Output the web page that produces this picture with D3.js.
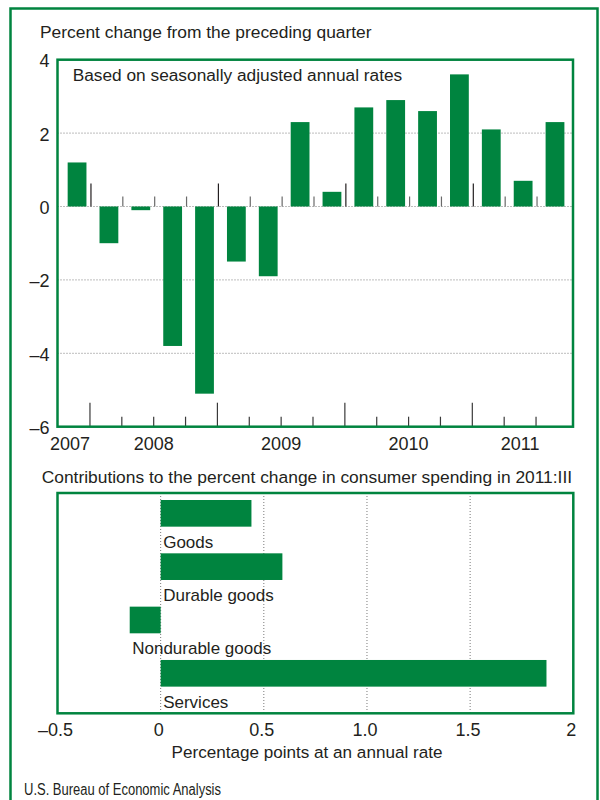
<!DOCTYPE html>
<html>
<head>
<meta charset="utf-8">
<script src="https://cdn.jsdelivr.net/npm/d3@7/dist/d3.min.js"></script>
<style>
  html, body { margin: 0; padding: 0; background: #fff; }
  svg { display: block; }
  text { font-family: "Liberation Sans", Arial, Helvetica, sans-serif; fill: #231f20; }
</style>
</head>
<body>
<svg id="chart" width="600" height="800"></svg>
<script>
// Real consumer spending, percent change from preceding quarter (SAAR)
const quarters = ["2007:IV",
  "2008:I", "2008:II", "2008:III", "2008:IV",
  "2009:I", "2009:II", "2009:III", "2009:IV",
  "2010:I", "2010:II", "2010:III", "2010:IV",
  "2011:I", "2011:II", "2011:III"];
const pctChange = [1.2, -1.0, -0.1, -3.8, -5.1, -1.5, -1.9, 2.3, 0.4, 2.7, 2.9, 2.6, 3.6, 2.1, 0.7, 2.3];
const years = ["2007", "2008", "2009", "2010", "2011"];
const yTicks = [4, 2, 0, -2, -4, -6];
const yTickLabels = ["4", "2", "0", "–2", "–4", "–6"];

// Contributions to the 2011:III change, percentage points
const contribCategories = ["Goods", "Durable goods", "Nondurable goods", "Services"];
const contribValues = [0.44, 0.59, -0.15, 1.87];
const xTicks = [-0.5, 0, 0.5, 1, 1.5, 2];
const xTickLabels = ["–0.5", "0", "0.5", "1.0", "1.5", "2"];

const GREEN = "#00843f";
const INK = "#231f20";
const svg = d3.select("#chart");

// outer frame
svg.append("rect")
  .attr("x", 10.5).attr("y", 8.5).attr("width", 587).attr("height", 820)
  .attr("fill", "none").attr("stroke", GREEN).attr("stroke-width", 2.5);

// ---------- top panel ----------
svg.append("text").attr("x", 40).attr("y", 38)
  .style("font-size", "17.4px").text("Percent change from the preceding quarter");

const boxA = { left: 57.5, right: 573, top: 59.7, bottom: 426.7 };
const x = d3.scaleBand().domain(quarters).range([58.1, 567.9]).padding(0);
const bw = x.bandwidth();
const y = d3.scaleLinear().domain([-6, 4]).range([boxA.bottom, boxA.top]);

const gTop = svg.append("g");

// dotted gridlines
gTop.selectAll("line.grid").data(yTicks.filter(t => t > -6 && t < 4)).join("line")
  .attr("class", "grid")
  .attr("x1", boxA.left).attr("x2", boxA.right)
  .attr("y1", d => y(d)).attr("y2", d => y(d))
  .attr("stroke", "#7a7a7a").attr("stroke-width", 1).attr("stroke-dasharray", "1,2");

// bars
gTop.selectAll("rect.bar").data(pctChange).join("rect")
  .attr("class", "bar")
  .attr("x", (d, i) => x(quarters[i]) + bw * 0.30)
  .attr("width", bw * 0.59)
  .attr("y", d => y(Math.max(0, d)))
  .attr("height", d => Math.abs(y(d) - y(0)))
  .attr("fill", GREEN);

// quarter boundary ticks (on zero line and bottom axis)
const boundaries = quarters.slice(1).map(q => ({ q, year: q.endsWith(":I") }));
gTop.selectAll("line.ztick").data(boundaries).join("line")
  .attr("class", "ztick")
  .attr("x1", d => x(d.q) + 1).attr("x2", d => x(d.q) + 1)
  .attr("y1", y(0)).attr("y2", d => y(0) - (d.year ? 23 : 10))
  .attr("stroke", d => d.year ? INK : "#6a6a6a").attr("stroke-width", 1.2);

gTop.selectAll("line.btick").data(boundaries).join("line")
  .attr("class", "btick")
  .attr("x1", d => x(d.q)).attr("x2", d => x(d.q))
  .attr("y1", boxA.bottom).attr("y2", d => boxA.bottom - (d.year ? 24 : 10))
  .attr("stroke", "#3a3a3a").attr("stroke-width", 1.2);

// plot box
gTop.append("rect")
  .attr("x", boxA.left).attr("y", boxA.top)
  .attr("width", boxA.right - boxA.left).attr("height", boxA.bottom - boxA.top)
  .attr("fill", "none").attr("stroke", GREEN).attr("stroke-width", 2.5);

// y labels
gTop.selectAll("text.ylab").data(yTicks).join("text")
  .attr("class", "ylab")
  .attr("x", 49.5).attr("y", d => y(d) + 7.5)
  .attr("text-anchor", "end")
  .style("font-size", "18px")
  .text((d, i) => yTickLabels[i]);

// year labels: centred on the year's quarters, or right-aligned if the span is too short
gTop.selectAll("text.year").data(years).join("text")
  .attr("class", "year")
  .each(function (yr) {
    const qs = quarters.filter(q => q.startsWith(yr));
    const x0 = x(qs[0]), x1 = x(qs[qs.length - 1]) + bw;
    const narrow = (x1 - x0) < 50;
    d3.select(this)
      .attr("x", narrow ? x1 : (x0 + x1) / 2)
      .attr("text-anchor", narrow ? "end" : "middle");
  })
  .attr("y", 450)
  .style("font-size", "18px")
  .text(d => d);

svg.append("text").attr("x", 72.7).attr("y", 81)
  .style("font-size", "17.3px").text("Based on seasonally adjusted annual rates");

// ---------- bottom panel ----------
svg.append("text").attr("x", 41.7).attr("y", 483)
  .style("font-size", "17.4px")
  .text("Contributions to the percent change in consumer spending in 2011:III");

const boxB = { left: 57.5, right: 573.3, top: 493, bottom: 713.3 };
const xb = d3.scaleLinear().domain([-0.5, 2]).range([boxB.left, boxB.right]);
const yb = d3.scaleBand().domain(contribCategories).range([500, boxB.bottom]).padding(0);
const step = yb.bandwidth();

const gBot = svg.append("g");

gBot.selectAll("line.vgrid").data(xTicks.filter(t => t > -0.5 && t < 2)).join("line")
  .attr("class", "vgrid")
  .attr("x1", d => xb(d)).attr("x2", d => xb(d))
  .attr("y1", boxB.top).attr("y2", boxB.bottom)
  .attr("stroke", "#7a7a7a").attr("stroke-width", 1).attr("stroke-dasharray", "1,2");

gBot.selectAll("rect.hbar").data(contribValues).join("rect")
  .attr("class", "hbar")
  .attr("x", d => xb(Math.min(0, d)))
  .attr("width", d => Math.abs(xb(d) - xb(0)))
  .attr("y", (d, i) => yb(contribCategories[i]))
  .attr("height", step * 0.5)
  .attr("fill", GREEN);

gBot.selectAll("text.clab").data(contribValues).join("text")
  .attr("class", "clab")
  .attr("x", d => xb(Math.min(0, d)) + 2.5)
  .attr("y", (d, i) => yb(contribCategories[i]) + step * 0.5 + 21)
  .style("font-size", "17px")
  .text((d, i) => contribCategories[i]);

gBot.append("rect")
  .attr("x", boxB.left).attr("y", boxB.top)
  .attr("width", boxB.right - boxB.left).attr("height", boxB.bottom - boxB.top)
  .attr("fill", "none").attr("stroke", GREEN).attr("stroke-width", 2.5);

gBot.selectAll("text.xlab").data(xTicks).join("text")
  .attr("class", "xlab")
  .attr("x", d => xb(d) - 2).attr("y", 736)
  .attr("text-anchor", "middle")
  .style("font-size", "18px")
  .text((d, i) => xTickLabels[i]);

svg.append("text").attr("x", 307).attr("y", 758)
  .attr("text-anchor", "middle")
  .style("font-size", "17.1px")
  .text("Percentage points at an annual rate");

svg.append("text").attr("x", 24).attr("y", 795)
  .style("font-size", "16px")
  .attr("textLength", 197).attr("lengthAdjust", "spacingAndGlyphs")
  .text("U.S. Bureau of Economic Analysis");
</script>
</body>
</html>
